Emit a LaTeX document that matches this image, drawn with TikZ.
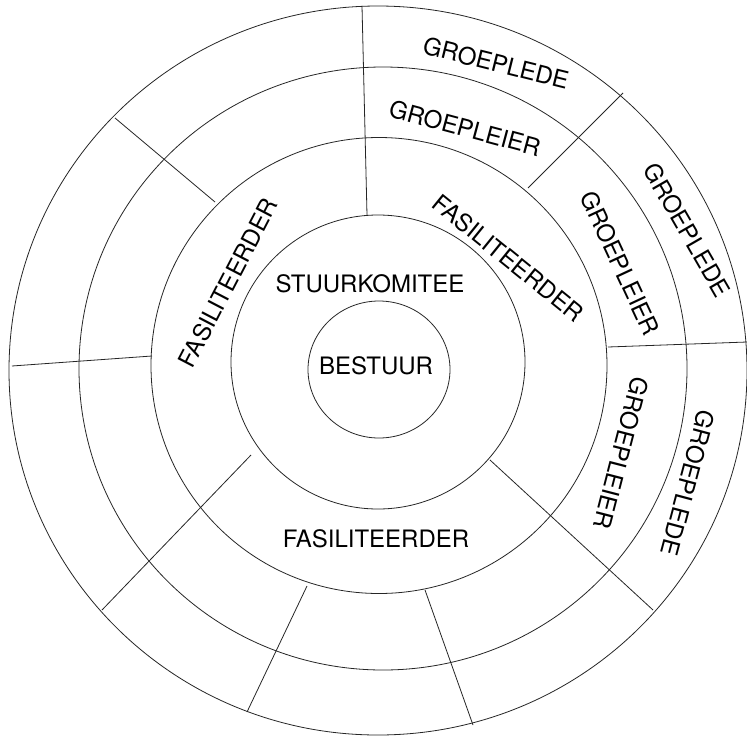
\documentclass[tikz,border=0pt]{standalone}
\usepackage{fontspec}
\setmainfont{TeX Gyre Heros}
\begin{document}
\begin{tikzpicture}[x=1pt,y=-1pt,
  ring/.style={draw=black!85,line width=0.8pt},
  spoke/.style={draw=black!85,line width=0.8pt},
  lbl/.style={inner sep=0pt,font=\fontsize{24pt}{28pt}\selectfont}]
\fill[white] (0,0) rectangle (747,737);
\useasboundingbox (0,0) rectangle (747,737);
% rings
\draw[ring] (379,369.5) ellipse [x radius=71, y radius=68.5];
\draw[ring] (378,362) circle [radius=147];
\draw[ring] (379,365.5) circle [radius=228];
\draw[ring] (383,368.5) ellipse [x radius=304, y radius=301.5];
\draw[ring] (378,370.5) ellipse [x radius=369, y radius=364.5];
% spoke end points
\coordinate (s1a) at (367,215); \coordinate (s1b) at (362,6);
\coordinate (s2a) at (528,188); \coordinate (s2b) at (623,93);
\coordinate (s3a) at (608,347); \coordinate (s3b) at (747,342);
\coordinate (s4a) at (490,460); \coordinate (s4b) at (653,610);
\coordinate (s5a) at (425,590); \coordinate (s5b) at (473,725);
\coordinate (s6a) at (307,586); \coordinate (s6b) at (247,712);
\coordinate (s7a) at (251,455); \coordinate (s7b) at (102,610);
\coordinate (s8a) at (215,202); \coordinate (s8b) at (115,118);
\coordinate (s9a) at (152,356); \coordinate (s9b) at (12,366);
\foreach \i in {1,...,9} {\draw[spoke] (s\i a) -- (s\i b);}
% labels
\node[lbl] (bestuur) at (376,366) {BESTUUR};
\node[lbl] (stuur) at (370,284) {STUURKOMITEE};
\node[lbl] (fasB) at (376,539) {FASILITEERDER};
\node[lbl,rotate=-14] (gledeT) at (496,63) {GROEPLEDE};
\node[lbl,rotate=-15] (gleierT) at (465,128) {GROEPLEIER};
\node[lbl,rotate=-39] (fasR) at (508,258) {FASILITEERDER};
\node[lbl,rotate=-65] (gleierR) at (620,263) {GROEPLEIER};
\node[lbl,rotate=-60] (gledeR) at (687,230) {GROEPLEDE};
\node[lbl,rotate=-104.5] (gleierL) at (621,453) {GROEPLEIER};
\node[lbl,rotate=-105] (gledeL) at (688,483) {GROEPLEDE};
\node[lbl,rotate=62.5] (fasL) at (228,283) {FASILITEERDER};
\end{tikzpicture}
\end{document}
